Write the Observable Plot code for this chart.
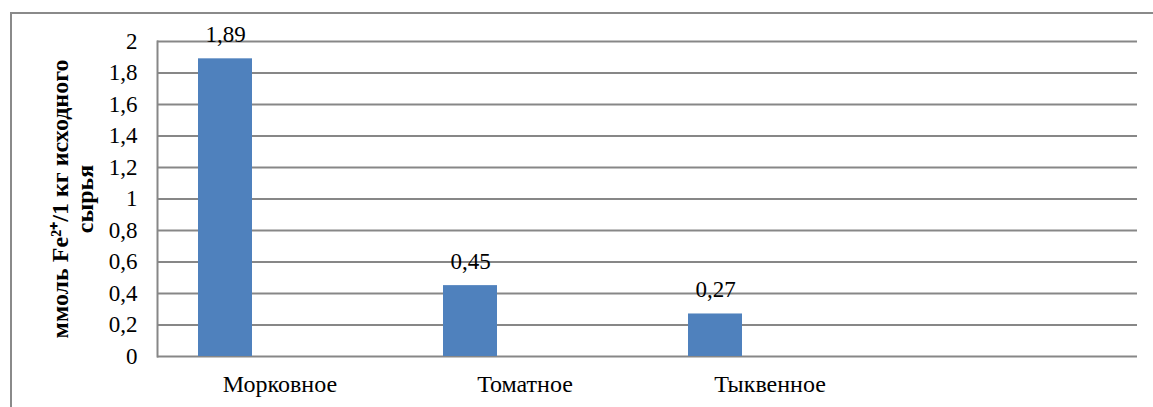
<!DOCTYPE html>
<html><head><meta charset="utf-8">
<script src="https://cdn.jsdelivr.net/npm/d3@7"></script>
<script src="https://cdn.jsdelivr.net/npm/@observablehq/plot@0.6"></script>
<style>
body{margin:0;background:#fff;}
#wrap{position:relative;width:1153px;height:407px;overflow:hidden;background:#fff;}
#border{position:absolute;left:10px;top:12px;width:1300px;height:600px;border:2px solid #8a8a8a;box-sizing:border-box;}
#chart{position:absolute;left:0;top:0;}
</style></head>
<body><div id="wrap"><div id="border"></div><div id="chart"></div></div>
<script>
const categories = ["Морковное", "Томатное", "Тыквенное", ""];
const values = [1.89, 0.45, 0.27];
const valueLabels = ["1,89", "0,45", "0,27"];
const yTicks = [0, 0.2, 0.4, 0.6, 0.8, 1, 1.2, 1.4, 1.6, 1.8, 2];
const yTickLabels = ["0", "0,2", "0,4", "0,6", "0,8", "1", "1,2", "1,4", "1,6", "1,8", "2"];
const yLabel = "ммоль Fe²⁺/1 кг исходного\nсырья";

const FONT = "Liberation Serif";
const data = values.map((v, i) => ({cat: categories[i], value: v, label: valueLabels[i]}));
const tickFmt = (d) => yTickLabels[yTicks.findIndex(t => Math.abs(t - d) < 1e-9)];

const chart = Plot.plot({
  width: 1153,
  height: 407,
  marginLeft: 157,
  marginRight: 16,
  marginTop: 41,
  marginBottom: 51,
  style: {fontFamily: FONT, fontSize: "23px", color: "#000", background: "transparent"},
  x: {type: "band", domain: categories, padding: 0, label: null},
  y: {domain: [0, 2], label: null},
  marks: [
    Plot.gridY(yTicks, {stroke: "#878787", strokeOpacity: 1, strokeWidth: 2}),
    Plot.frame({anchor: "left", stroke: "#878787", strokeWidth: 2}),
    Plot.barY(data, {x: "cat", y: "value", fill: "#4f81bd", insetLeft: 41, insetRight: 150}),
    Plot.text(data, {x: "cat", y: "value", text: "label", dx: -54.5, dy: -16.5, lineAnchor: "bottom", fontSize: 23, fontFamily: FONT, fill: "#000"}),
    Plot.axisY(yTicks, {tickSize: 0, tickPadding: 20, tickFormat: tickFmt, fontSize: 23, fontFamily: FONT, label: null}),
    Plot.axisX({tickSize: 0, tickPadding: 18, fontSize: 24, fontFamily: FONT, label: null}),
    Plot.text([yLabel], {frameAnchor: "left", textAnchor: "middle", rotate: -90, dx: -85, fontWeight: "bold", fontSize: 24, fontFamily: FONT, lineHeight: 1.05, fill: "#000"})
  ]
});
document.getElementById("chart").appendChild(chart);
</script>
</body></html>
